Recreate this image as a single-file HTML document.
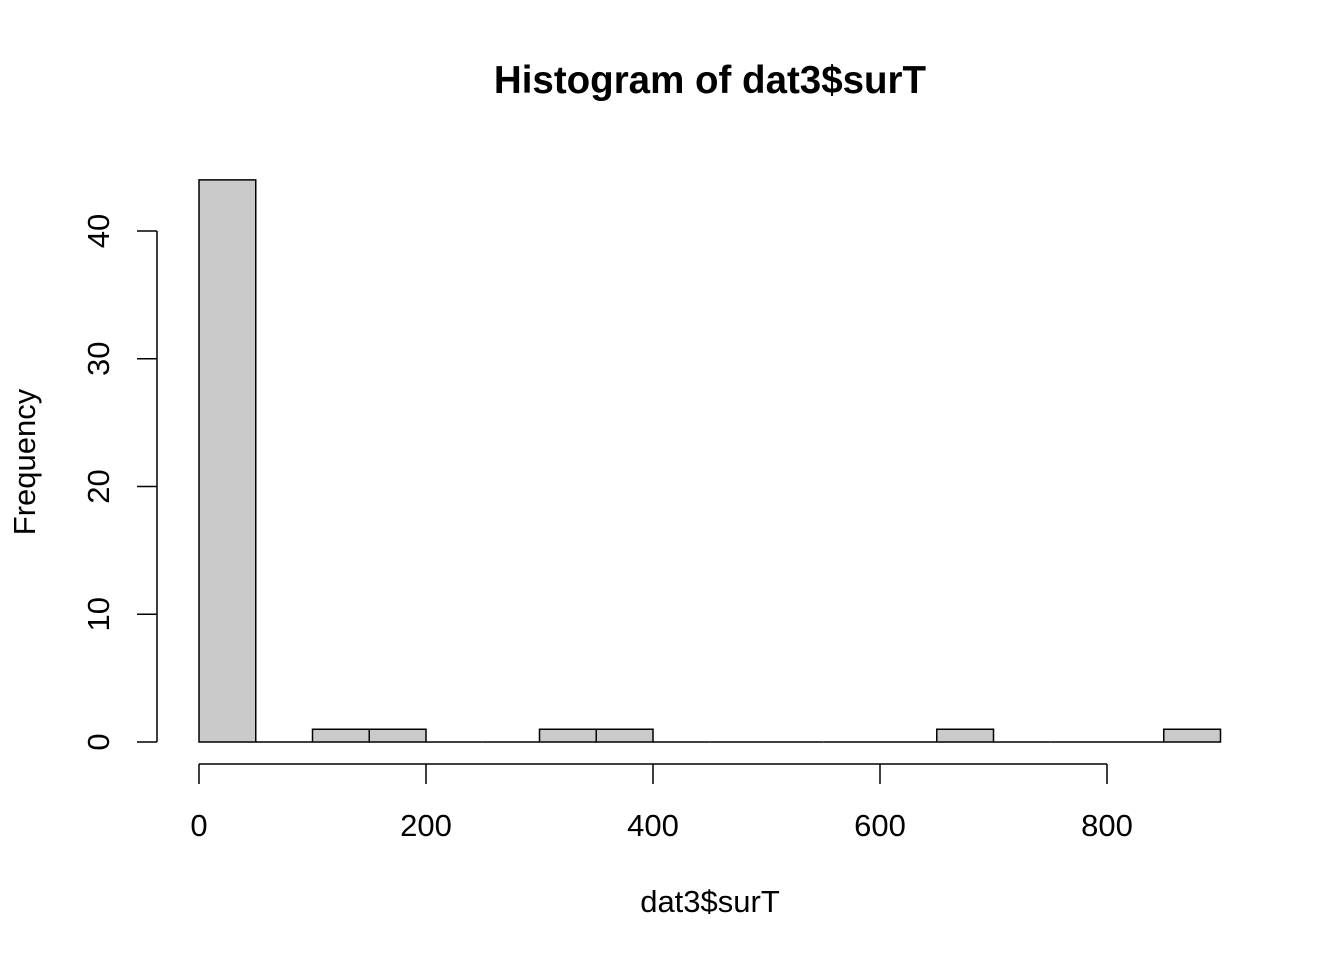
<!DOCTYPE html>
<html><head><meta charset="utf-8"><style>
html,body{margin:0;padding:0;background:#fff;}
svg{display:block;font-family:"Liberation Sans",Arial,sans-serif;}
</style></head><body>
<svg id="chart" width="1344" height="960" viewBox="0 0 1344 960">
<text x="710" y="93" text-anchor="middle" font-size="38.5" font-weight="bold">Histogram of dat3$surT</text>
<text x="710" y="912" text-anchor="middle" font-size="31">dat3$surT</text>
<text transform="translate(35,462) rotate(-90)" text-anchor="middle" font-size="31">Frequency</text>
<g id="bars"></g>
<g id="xaxis"></g>
<g id="yaxis"></g>
</svg>
<script>
const binStart = 0;
const binWidth = 50;
const counts = [44,0,1,1,0,0,1,1,0,0,0,0,0,1,0,0,0,1];
const xTicks = [0,200,400,600,800];
const yTicks = [0,10,20,30,40];

const NS = "http://www.w3.org/2000/svg";
const x = v => 199 + v * (227/200);
const y = v => 742 - v * (511/40);
function mk(tag, attrs, parent){const e=document.createElementNS(NS,tag);for(const k in attrs)e.setAttribute(k,attrs[k]);parent.appendChild(e);return e;}

const bars = document.getElementById('bars');
counts.forEach((c,i)=>{
  const x0 = x(binStart + i*binWidth), x1 = x(binStart + (i+1)*binWidth);
  const y0 = y(0), y1 = y(c);
  const r = mk('path',{d:`M${x0},${y0}L${x0},${y1}L${x1},${y1}L${x1},${y0}Z`,fill:'#cacaca',stroke:'#000','stroke-width':1.5},bars);
  
  
});

const xa = document.getElementById('xaxis');
mk('line',{x1:x(xTicks[0]),x2:x(xTicks[xTicks.length-1]),y1:764,y2:764,stroke:'#000','stroke-width':1.5},xa);
xTicks.forEach(t=>{
  mk('line',{x1:x(t),x2:x(t),y1:764,y2:784,stroke:'#000','stroke-width':1.5},xa);
  const tx = mk('text',{x:x(t),y:836,'text-anchor':'middle','font-size':31},xa);
  tx.textContent = t;
  
  
});

const ya = document.getElementById('yaxis');
mk('line',{x1:157,x2:157,y1:y(yTicks[0]),y2:y(yTicks[yTicks.length-1]),stroke:'#000','stroke-width':1.5},ya);
yTicks.forEach(t=>{
  mk('line',{x1:137,x2:157,y1:y(t),y2:y(t),stroke:'#000','stroke-width':1.5},ya);
  const tx = mk('text',{transform:`translate(109,${y(t)}) rotate(-90)`,'text-anchor':'middle','font-size':31},ya);
  tx.textContent = t;
  
  
});
</script>
</body></html>
